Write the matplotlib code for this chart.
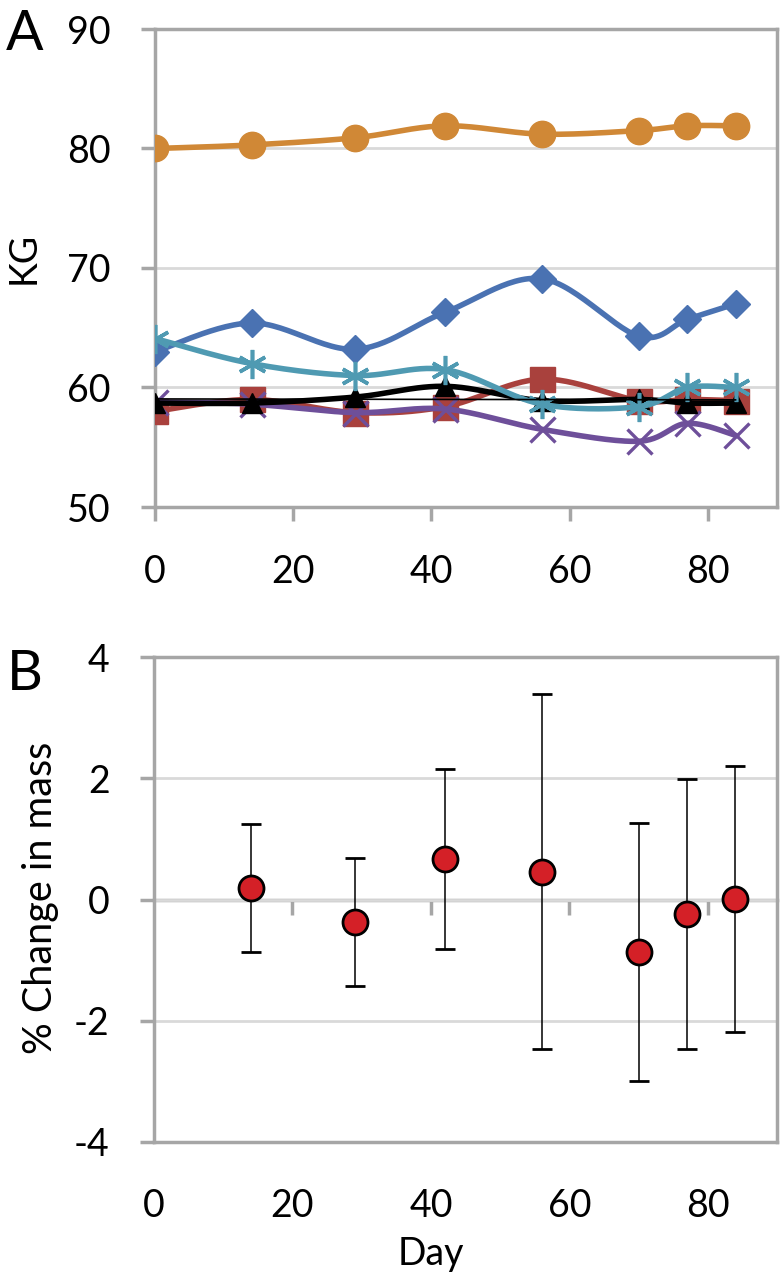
import numpy as np
import matplotlib
matplotlib.use("Agg")
import matplotlib.pyplot as plt

plt.rcParams['font.family'] = ['Lato', 'DejaVu Sans']
plt.rcParams['axes.unicode_minus'] = False

# days of measurement
days = [0, 14, 29, 42, 56, 70, 77, 84]

# body mass (kg) per subject, panel A
mass_orange = [80.0, 80.3, 80.9, 81.9, 81.2, 81.5, 81.9, 81.9]
mass_blue = [63.0, 65.4, 63.2, 66.3, 69.1, 64.3, 65.7, 67.0]
mass_teal = [64.1, 62.0, 61.0, 61.5, 58.6, 58.4, 60.0, 60.0]
mass_red = [58.0, 59.0, 57.9, 58.4, 60.7, 58.9, 59.0, 58.9]
mass_black = [58.7, 58.7, 59.2, 60.1, 58.9, 59.0, 58.7, 58.7]
mass_purple = [58.8, 58.6, 57.9, 58.2, 56.5, 55.5, 57.0, 56.0]

# panel B: mean % change and error
b_days = [14, 29, 42, 56, 70, 77, 84]
pct_change = [0.19, -0.37, 0.67, 0.46, -0.87, -0.24, 0.01]
pct_err = [1.06, 1.06, 1.49, 2.93, 2.13, 2.22, 2.20]

frame_col = '#a6a6a6'
grid_col = '#d9d9d9'
W, H = 783, 1281


def smooth(x, y, n=30):
    # Excel-like smoothed line (Catmull-Rom Bezier segments)
    p = np.column_stack([x, y]).astype(float)
    pts = np.vstack([p[0], p, p[-1]])
    t = np.linspace(0, 1, n)[:, None]
    out = []
    for i in range(1, len(pts) - 2):
        p0, p1, p2, p3 = pts[i - 1], pts[i], pts[i + 1], pts[i + 2]
        c1 = p1 + (p2 - p0) / 6.0
        c2 = p2 - (p3 - p1) / 6.0
        seg = ((1 - t) ** 3) * p1 + 3 * ((1 - t) ** 2) * t * c1 + 3 * (1 - t) * t ** 2 * c2 + t ** 3 * p2
        out.append(seg)
    out = np.vstack(out)
    return out[:, 0], out[:, 1]


fig = plt.figure(figsize=(W / 100, H / 100), dpi=100)
axA = fig.add_axes([155 / W, 1 - 507 / H, 622 / W, 478 / H])
axB = fig.add_axes([154 / W, 1 - 1142 / H, 623 / W, 485 / H])

# ---- panel A
series = [
    (mass_blue, '#4a72b2', 'D', dict(ms=14, mec='#4a72b2')),
    (mass_red, '#a9413d', 's', dict(ms=18, mec='#a9413d')),
    (mass_purple, '#6e4f9a', 'x', dict(ms=18, mew=2.4)),
    (mass_black, 'black', '^', dict(ms=15)),
    (mass_teal, '#4f9ab2', (6, 2, 0), dict(ms=21, mew=2.6)),
    (mass_orange, '#d08836', 'o', dict(ms=19)),
]
for z, (vals, col, mk, kw) in enumerate(series):
    sx, sy = smooth(days, vals)
    axA.plot(sx, sy, color=col, lw=4, zorder=3 + z, solid_capstyle='round')
    axA.plot(days, vals, ls='none', marker=mk, color=col, zorder=3 + z, **kw)

# thin linear trend of the black series
coef = np.polyfit(days, mass_black, 1)
axA.plot(days, np.polyval(coef, days), color='black', lw=1.2, zorder=9)

axA.set_xlim(0, 90)
axA.set_ylim(50, 90)
axA.set_xticks([0, 20, 40, 60, 80])
axA.set_yticks([50, 60, 70, 80, 90])
axA.yaxis.grid(True, color=grid_col, lw=2)
axA.set_axisbelow(True)
axA.tick_params(axis='both', colors=frame_col, labelcolor='black', width=2.5,
                length=10, labelsize=27, direction='out')
axA.tick_params(axis='y', pad=22)
axA.tick_params(axis='x', pad=24)
for s in axA.spines.values():
    s.set_color(frame_col)
    s.set_linewidth(2.5)
fig.text(24 / W, 1 - 258 / H, 'KG', fontsize=27, rotation=90,
         ha='center', va='center')
fig.text(25 / W, 1 - 34 / H, 'A', fontsize=40, ha='center', va='center')

# ---- panel B
axB.errorbar(b_days, pct_change, yerr=pct_err, fmt='o', color='black', ecolor='black',
             elinewidth=1.1, capsize=7, capthick=1.1, ms=18, mfc='#d42027',
             mec='black', mew=2, zorder=5)
axB.set_xlim(0, 90)
axB.set_ylim(-4, 4)
axB.set_xticks([0, 20, 40, 60, 80])
axB.set_yticks([-4, -2, 0, 2, 4])
axB.yaxis.grid(True, color=grid_col, lw=2)
axB.set_axisbelow(True)
axB.tick_params(axis='y', colors=frame_col, labelcolor='black', width=2.5,
                length=10, labelsize=27, pad=22)
axB.tick_params(axis='x', length=0, labelsize=27, pad=33)
for s in axB.spines.values():
    s.set_color(frame_col)
    s.set_linewidth(2.5)
fig.text(41 / W, 1 - 898 / H, '% Change in mass', fontsize=28.5, rotation=90,
         ha='center', va='center')
fig.text(431 / W, 1 - 1265 / H, 'Day', fontsize=27, ha='center', va='baseline')

# zero line with its own tick marks
axZ = axB.twiny()
axZ.set_xlim(axB.get_xlim())
axZ.xaxis.set_ticks_position('bottom')
axZ.spines['bottom'].set_position(('data', 0))
for k in ['top', 'left', 'right']:
    axZ.spines[k].set_visible(False)
axZ.spines['bottom'].set_color(frame_col)
axZ.spines['bottom'].set_linewidth(2.5)
axZ.set_xticks([20, 40, 60, 80])
axZ.tick_params(axis='x', colors=frame_col, width=2.5, length=11,
                direction='out', labelbottom=False, labeltop=False)
axZ.set_zorder(axB.get_zorder() - 1)
axB.patch.set_visible(False)

fig.text(25 / W, 1 - 675 / H, 'B', fontsize=40, ha='center', va='center')

fig.savefig('out.png', dpi=100)
